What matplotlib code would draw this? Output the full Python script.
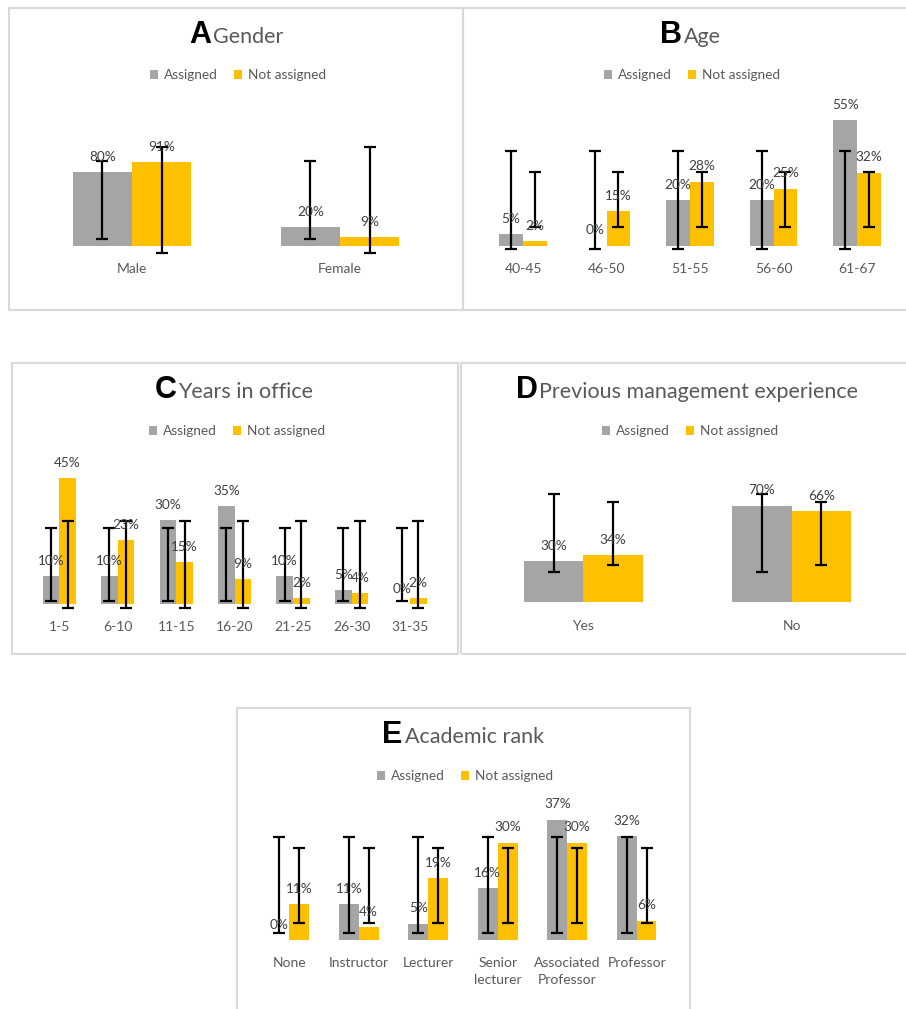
import numpy as np
import matplotlib
matplotlib.use("Agg")
import matplotlib.pyplot as plt
from matplotlib.patches import Patch, Rectangle

plt.rcParams['font.family'] = ['Lato', 'DejaVu Sans']

W, H = 906, 1009
GRAY = '#A5A5A5'
GOLD = '#FFC000'
TXT = '#595959'

# ---- data ----
gender_cats = ['Male', 'Female']
gender_assigned = [80, 20]
gender_not = [91, 9]

age_cats = ['40-45', '46-50', '51-55', '56-60', '61-67']
age_assigned = [5, 0, 20, 20, 55]
age_not = [2, 15, 28, 25, 32]

years_cats = ['1-5', '6-10', '11-15', '16-20', '21-25', '26-30', '31-35']
years_assigned = [10, 10, 30, 35, 10, 5, 0]
years_not = [45, 23, 15, 9, 2, 4, 2]

mgmt_cats = ['Yes', 'No']
mgmt_assigned = [30, 70]
mgmt_not = [34, 66]

rank_cats = ['None', 'Instructor', 'Lecturer', 'Senior\nlecturer',
             'Associated\nProfessor', 'Professor']
rank_assigned = [0, 11, 5, 16, 37, 32]
rank_not = [11, 4, 19, 30, 30, 6]

fig = plt.figure(figsize=(W / 100, H / 100), dpi=100)
fig.patch.set_facecolor('white')


def px(x, y):
    return x / W, 1 - y / H


def border(x0, y0, x1, y1):
    fig.add_artist(Rectangle(px(x0, y1), (x1 - x0) / W, (y1 - y0) / H,
                             transform=fig.transFigure, fill=False,
                             edgecolor='#D9D9D9', linewidth=1.5))


def panel(letter, title, cats, assigned, not_assigned, left, right, base,
          ppp, ymax, title_cx, title_y, leg_cx, leg_y):
    height = ymax * ppp
    ax = fig.add_axes([left / W, 1 - base / H, (right - left) / W, height / H])
    n = len(cats)
    x = np.arange(n)
    bw = 0.285
    ax.bar(x - bw / 2, assigned, bw, color=GRAY, label='Assigned')
    ax.bar(x + bw / 2, not_assigned, bw, color=GOLD, label='Not assigned')

    # Excel "standard deviation" error bars: series mean +/- 1 SD
    for vals, off in ((assigned, -bw / 2), (not_assigned, bw / 2)):
        m = np.mean(vals)
        sd = np.std(vals, ddof=1)
        eb = ax.errorbar(x + off, [m] * n, yerr=sd, fmt='none', ecolor='black',
                         elinewidth=1.6, capsize=4, capthick=1.6)
        for a in eb.get_children():
            a.set_clip_on(False)
        for xi, v in zip(x + off, vals):
            ax.annotate(f'{v}%', (xi, v), xytext=(0, 11), textcoords='offset points',
                        ha='center', va='center', fontsize=9.8, color='#404040',
                        annotation_clip=False)

    ax.set_xlim(-0.5, n - 0.5)
    ax.set_ylim(0, ymax)
    for s in ax.spines.values():
        s.set_visible(False)
    ax.set_yticks([])
    ax.set_xticks(x)
    ax.set_xticklabels(cats, fontsize=10, color=TXT)
    for t in ax.get_xticklabels():
        t.set_linespacing(1.5)
    ax.tick_params(axis='x', length=0, pad=12.5)
    ax.patch.set_visible(False)

    # title: bold letter + gray text, centred together
    t1 = fig.text(0, 0, letter, fontsize=22, fontweight='bold',
                  family='Liberation Sans', color='black', va='baseline')
    t2 = fig.text(0, 0, title, fontsize=15.5, color=TXT, va='baseline')
    r = fig.canvas.get_renderer()
    w1 = t1.get_window_extent(r).width
    w2 = t2.get_window_extent(r).width
    x0 = title_cx - (w1 + 2 + w2) / 2
    t1.set_position(px(x0, title_y))
    t2.set_position(px(x0 + w1 + 2, title_y))

    handles = [Patch(facecolor=GRAY), Patch(facecolor=GOLD)]
    ax.legend(handles, ['Assigned', 'Not assigned'], ncol=2, loc='center',
              bbox_to_anchor=px(leg_cx, leg_y), bbox_transform=fig.transFigure,
              frameon=False, fontsize=9.8, labelcolor=TXT, handlelength=0.6,
              handleheight=0.6, handletextpad=0.4, columnspacing=1.2,
              borderpad=0, borderaxespad=0)
    return ax


border(9, 8, 463, 310)
border(463, 8, 925, 310)
border(12, 363, 458, 654)
border(461, 363, 925, 654)
border(237, 708, 690, 1030)

panel('A', 'Gender', gender_cats, gender_assigned, gender_not,
      28, 444, 245.7, 0.9175, 100, 236, 43, 238, 75)
panel('B', 'Age', age_cats, age_assigned, age_not,
      481.3, 898.8, 245.7, 2.285, 60, 690, 43, 692, 75)
panel('C', 'Years in office', years_cats, years_assigned, years_not,
      30.1, 439.2, 604, 2.79, 47, 234, 398, 237, 431)
panel('D', 'Previous management experience', mgmt_cats, mgmt_assigned, mgmt_not,
      479.2, 895.9, 602.3, 1.38, 80, 687, 398, 690, 431)
panel('E', 'Academic rank', rank_cats, rank_assigned, rank_not,
      254.6, 671.4, 940, 3.25, 40, 463, 743, 465, 776)

fig.savefig('out.png', dpi=100)
